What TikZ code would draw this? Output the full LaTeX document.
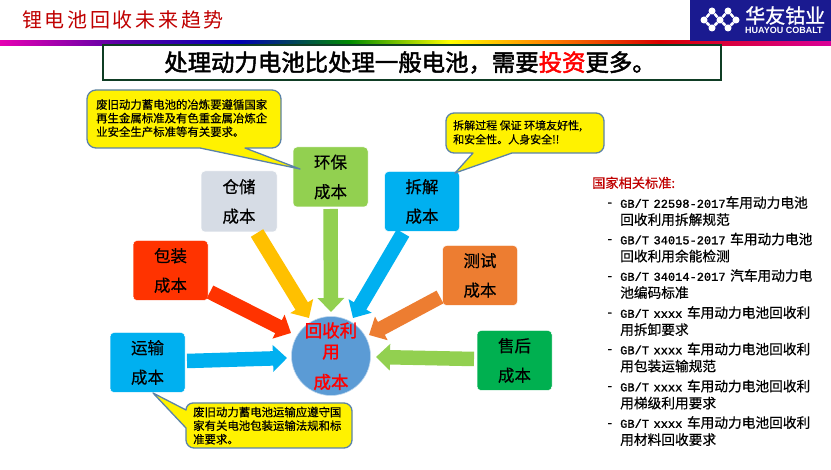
\documentclass[tikz,border=0pt]{standalone}
\usepackage{fontspec}
\setmainfont{Noto Sans CJK SC}
\newfontfamily\cjkbold[FakeBold=1.2]{Noto Sans CJK SC}
\newfontfamily\cjktitle[FakeBold=2]{Noto Sans CJK SC}
\newfontfamily\cjksemi[FakeBold=0.5]{Noto Sans CJK SC}
\newfontfamily\gbmono[FakeBold=1.5]{Liberation Mono}
\newfontfamily\logolat{Liberation Sans}
\usetikzlibrary{arrows.meta,shapes.geometric,calc}
\definecolor{navy}{HTML}{1A1A90}
\definecolor{callblue}{HTML}{5B83A8}
\definecolor{cGreen}{HTML}{92D050}
\definecolor{cGrey}{HTML}{D6DCE5}
\definecolor{cRed}{HTML}{FF3300}
\definecolor{cBlue}{HTML}{00B0F0}
\definecolor{cOrange}{HTML}{ED7D31}
\definecolor{cDark}{HTML}{00B050}
\definecolor{cAmber}{HTML}{FFC000}
\definecolor{cCircle}{HTML}{5B9BD5}
\definecolor{titleRed}{HTML}{C00000}
\definecolor{boxEdge}{HTML}{0F3D24}
\tikzset{
  costbox/.style={rounded corners=4pt,draw=white,line width=0.5pt,align=center,inner sep=0pt,
    minimum width=75pt,minimum height=60pt,font=\cjksemi\fontsize{16.5}{29.5}\selectfont,text=black},
  flow/.style={line width=14.5pt,-{Triangle[length=14pt,width=26pt]},shorten >=0pt},
  calltxt/.style={font=\cjksemi\fontsize{11.4}{13.6}\selectfont,align=left,anchor=north west,inner sep=0pt,text=black},
  callout/.style={fill=yellow,draw=callblue,line width=1.3pt,line join=round},
  stditem/.style={font=\cjksemi\fontsize{13.7}{17}\selectfont,align=left,anchor=north west,inner sep=0pt,text=black,text width=205pt},
  dashmark/.style={font=\gbmono\fontsize{12}{20}\selectfont,anchor=north west,inner sep=0pt,text=black},
  logodot/.style={circle,fill=white,draw=none,inner sep=0pt,minimum size=7pt},
}
\newcommand{\gbm}[1]{{\gbmono\fontsize{12}{17}\selectfont #1}}
\begin{document}
\begin{tikzpicture}[x=1pt,y=-1pt]
\useasboundingbox (0,0) rectangle (831,470);
\fill[white] (0,0) rectangle (831,470);
% rainbow rule
\fill[left color=magenta!60!purple,right color=violet!70!blue] (0,41) rectangle (120,46);
\fill[left color=violet!70!blue,right color=blue!70!black] (120,41) rectangle (240,46);
\fill[left color=blue!70!black,right color=green!55!black] (240,41) rectangle (350,46);
\fill[left color=green!55!black,right color=yellow] (350,41) rectangle (450,46);
\fill[left color=yellow,right color=orange] (450,41) rectangle (550,46);
\fill[left color=orange,right color=red!85!black] (550,41) rectangle (660,46);
\fill[left color=red!85!black,right color=magenta!70!red!85!black] (660,41) rectangle (831,46);
% logo
\fill[navy] (690,0) rectangle (831,41);
\node[logodot] (d1) at (704,20) {};
\node[logodot] (d2) at (712,11) {};
\node[logodot] (d3) at (712,28) {};
\node[logodot] (d4) at (720,20) {};
\node[logodot] (d5) at (728,11) {};
\node[logodot] (d6) at (728,28) {};
\node[logodot] (d7) at (736,20) {};
\draw[white,line width=2.5pt] (d2)--(d1)--(d3) (d5)--(d4)--(d6) (d5)--(d7)--(d6) (d2)--(d4) (d3)--(d4);
\node[anchor=west,inner sep=0pt,text=white,font=\cjkbold\fontsize{20}{20}\selectfont] (logocn) at (745,15.5) {华友钴业};
\node[anchor=west,inner sep=0pt,text=white,font=\logolat\bfseries\fontsize{9}{9}\selectfont] (logoen) at (745,30.5) {HUAYOU COBALT};
% header
\node[anchor=west,inner sep=0pt,text=titleRed,font=\fontsize{20}{22}\selectfont] (head) at (22,20) {锂\kern2.7pt电\kern2.7pt池\kern2.7pt回\kern2.7pt收\kern2.7pt未\kern2.7pt来\kern2.7pt趋\kern2.7pt势};
% title
\node[draw=boxEdge,line width=1.4pt,minimum width=618pt,minimum height=35pt,inner sep=0pt,fill=white] (title) at (412,62.5) {};
\node[inner sep=0pt,font=\cjktitle\fontsize{23.4}{24}\selectfont,text=black] (titletxt) at (410,62.5) {处理动力电池比处理一般电池，需要\textcolor{red}{投资}更多。};
% centre
\node[circle,fill=cCircle,draw=cCircle!40!white,line width=0.6pt,minimum size=79pt,inner sep=0pt] (hub) at (331,356) {};
% cost boxes
\node[costbox,fill=cGreen,minimum width=75pt,minimum height=60pt] (env) at (330.5,177) {环保\\成本};
\node[costbox,fill=cGrey,minimum width=76pt,minimum height=61pt] (store) at (239,201.5) {仓储\\成本};
\node[costbox,fill=cRed] (pack) at (170.5,270.5) {包装\\成本};
\node[costbox,fill=cBlue] (ship) at (147.5,362.5) {运输\\成本};
\node[costbox,fill=cBlue] (dism) at (422,201.5) {拆解\\成本};
\node[costbox,fill=cOrange] (test) at (480,275.5) {测试\\成本};
\node[costbox,fill=cDark] (after) at (514.5,360.5) {售后\\成本};
% arrow ends
\coordinate (aEnv) at (330.5,209); \coordinate (bEnv) at (331,312);
\coordinate (aStore) at (257,233); \coordinate (bStore) at (309,318);
\coordinate (aPack) at (210,292); \coordinate (bPack) at (291,333);
\coordinate (aShip) at (187,361); \coordinate (bShip) at (287,358);
\coordinate (aDism) at (403,233); \coordinate (bDism) at (353,318);
\coordinate (aTest) at (440,297); \coordinate (bTest) at (369,335);
\coordinate (aAfter) at (474,359); \coordinate (bAfter) at (376,357);
\draw[flow,cGreen] (aEnv)--(bEnv);
\draw[flow,cAmber] (aStore)--(bStore);
\draw[flow,cRed] (aPack)--(bPack);
\draw[flow,cBlue] (aShip)--(bShip);
\draw[flow,cBlue] (aDism)--(bDism);
\draw[flow,cOrange] (aTest)--(bTest);
\draw[flow,cGreen] (aAfter)--(bAfter);
% hub label
\node[text=red,align=center,inner sep=0pt,font=\cjkbold\fontsize{17.5}{21}\selectfont] (hubtxt) at (331,341) {回收利\\用};
\node[text=red,inner sep=0pt,font=\cjkbold\fontsize{17.5}{21}\selectfont] (hubtxtb) at (331,382) {成本};
% callouts
\draw[callout] (96,90) -- (272,90) arc[start angle=-90,end angle=0,radius=9] -- (281,139) arc[start angle=0,end angle=90,radius=9] -- (245,148) -- (300,169) -- (200,148) -- (96,148) arc[start angle=90,end angle=180,radius=9] -- (87,99) arc[start angle=180,end angle=270,radius=9] -- cycle;
\node[calltxt] (c1) at (96,99) {废旧动力蓄电池的冶炼要遵循国家\\再生金属标准及有色重金属冶炼企\\业安全生产标准等有关要求。};
\draw[callout] (454,113) -- (596,113) arc[start angle=-90,end angle=0,radius=8] -- (604,145) arc[start angle=0,end angle=90,radius=8] -- (512,153) -- (455,173) -- (473,153) -- (454,153) arc[start angle=90,end angle=180,radius=8] -- (446,121) arc[start angle=180,end angle=270,radius=8] -- cycle;
\node[calltxt,font=\cjksemi\fontsize{11}{14}\selectfont] (c2) at (453,120) {拆解过程 保证 环境友好性,\\和安全性。人身安全!!};
\draw[callout] (194,403) -- (344,403) arc[start angle=-90,end angle=0,radius=8] -- (352,440) arc[start angle=0,end angle=90,radius=8] -- (194,448) arc[start angle=90,end angle=180,radius=8] -- (186,428) -- (153,393) -- (186,410) arc[start angle=180,end angle=270,radius=7] -- cycle;
\node[calltxt] (c3) at (193,406.5) {废旧动力蓄电池运输应遵守国\\家有关电池包装运输法规和标\\准要求。};
% standards
\node[anchor=north west,inner sep=0pt,text=titleRed,font=\cjksemi\fontsize{13.2}{14}\selectfont] (stdh) at (592,176.5) {国家相关标准:};
\foreach \yy/\nm in {202.5/a,239/b,276/c,312.5/d,349/e,386/f,423/g}{
  \node[dashmark] (dash\nm) at (606,\yy) {-};
}
\node[stditem] (s1) at (620,196) {\gbm{GB/T 22598-2017}车用动力电池\\回收利用拆解规范};
\node[stditem] (s2) at (620,232.5) {\gbm{GB/T 34015-2017 }车用动力电池\\回收利用余能检测};
\node[stditem] (s3) at (620,269) {\gbm{GB/T 34014-2017 }汽车用动力电\\池编码标准};
\node[stditem] (s4) at (620,306) {\gbm{GB/T xxxx }车用动力电池回收利\\用拆卸要求};
\node[stditem] (s5) at (620,342.5) {\gbm{GB/T xxxx }车用动力电池回收利\\用包装运输规范};
\node[stditem] (s6) at (620,379.5) {\gbm{GB/T xxxx }车用动力电池回收利\\用梯级利用要求};
\node[stditem] (s7) at (620,416) {\gbm{GB/T xxxx }车用动力电池回收利\\用材料回收要求};
\end{tikzpicture}
\end{document}
